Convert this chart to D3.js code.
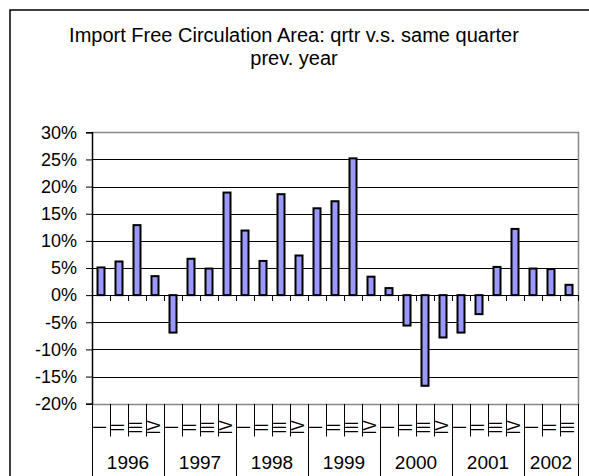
<!DOCTYPE html>
<html>
<head>
<meta charset="utf-8">
<script src="https://cdn.jsdelivr.net/npm/d3@7"></script>
<style>
html,body{margin:0;padding:0;background:#fff;}
svg{display:block;font-family:Arial,"Liberation Sans",sans-serif;}
</style>
</head>
<body>
<svg id="c" width="589" height="476"></svg>
<script>
const titleLines = ["Import Free Circulation Area: qrtr v.s. same quarter", "prev. year"];
const years = ["1996","1997","1998","1999","2000","2001","2002"];
const quarterLabels = ["I","II","III","IV"];
const categoryYears = ["1996","1996","1996","1996","1997","1997","1997","1997","1998","1998","1998","1998","1999","1999","1999","1999","2000","2000","2000","2000","2001","2001","2001","2001","2002","2002","2002"];
const categoryQuarters = ["I","II","III","IV","I","II","III","IV","I","II","III","IV","I","II","III","IV","I","II","III","IV","I","II","III","IV","I","II","III"];
const values = [5.1, 6.2, 12.9, 3.5, -6.9, 6.7, 4.9, 18.9, 11.9, 6.3, 18.6, 7.3, 16.0, 17.3, 25.2, 3.4, 1.3, -5.6, -16.7, -7.8, -6.9, -3.5, 5.2, 12.2, 4.9, 4.8, 1.9];
const yTicks = [-20, -15, -10, -5, 0, 5, 10, 15, 20, 25, 30];

const svg = d3.select("#c");
const L = 92, R = 578, T = 132.3, B = 403.7;
const n = values.length;
const ids = d3.range(n);

// outer frame
svg.append("rect").attr("x",10).attr("y",10).attr("width",620).attr("height",500)
  .attr("fill","#fff").attr("stroke","#000").attr("stroke-width",1.5);

// title
svg.append("g").selectAll("text").data(titleLines).join("text")
  .attr("x",294).attr("y",(d,i)=>42+i*22.5)
  .attr("text-anchor","middle").attr("font-size",20).attr("fill","#000")
  .text(d=>d);

const x = d3.scaleBand().domain(ids).range([L,R]).paddingInner(11/18).paddingOuter(11/36);
const step = x.step();
const y = d3.scaleLinear().domain([-20,30]).range([B,T]);

// gridlines
svg.append("g").selectAll("line").data(yTicks.filter(t=>t>-20 && t<30)).join("line")
  .attr("x1",L).attr("x2",R).attr("y1",d=>Math.round(y(d))+0.5).attr("y2",d=>Math.round(y(d))+0.5)
  .attr("stroke","#000").attr("stroke-width",1);

// plot border (gray)
svg.append("path")
  .attr("d",`M${L},${Math.round(T)+0.5}H${R+0.5}V${Math.round(B)+0.5}H${L}`)
  .attr("fill","none").attr("stroke","#888").attr("stroke-width",1.5);

// y axis
const yAxis = d3.axisLeft(y).tickValues(yTicks).tickSize(6).tickPadding(9).tickFormat(d=>d+"%");
const ya = svg.append("g").attr("transform",`translate(${L},0)`).call(yAxis);
ya.select(".domain").attr("stroke","#000").attr("stroke-width",1.5);
ya.selectAll(".tick line").attr("stroke","#000");
ya.selectAll(".tick text").attr("font-size",18).attr("fill","#000").attr("font-family","Arial, 'Liberation Sans', sans-serif");

// zero-line category ticks
svg.append("g").selectAll("line").data(d3.range(n+1)).join("line")
  .attr("x1",d=>Math.round(L+d*step)+0.5).attr("x2",d=>Math.round(L+d*step)+0.5)
  .attr("y1",Math.round(y(0))).attr("y2",Math.round(y(0))+6)
  .attr("stroke","#000").attr("stroke-width",1);

// bars
svg.append("g").selectAll("rect").data(ids).join("rect")
  .attr("x",i=>x(i)).attr("width",x.bandwidth())
  .attr("y",i=>y(Math.max(0,values[i])))
  .attr("height",i=>Math.abs(y(values[i])-y(0)))
  .attr("fill","#9999FF").attr("stroke","#000").attr("stroke-width",2);

// category separators (quarters)
svg.append("g").selectAll("line").data(d3.range(n+1)).join("line")
  .attr("x1",d=>Math.round(L+d*step)+0.5).attr("x2",d=>Math.round(L+d*step)+0.5)
  .attr("y1",Math.round(B)).attr("y2",d=>{
    const isYear = d===0 || d===n || categoryYears[d]!==categoryYears[d-1];
    return isYear ? 480 : 436.5;
  })
  .attr("stroke","#000").attr("stroke-width",1);

// quarter labels (rotated)
svg.append("g").selectAll("text").data(ids).join("text")
  .attr("transform",i=>`translate(${L+i*step+14},427.5) rotate(-90) scale(1,1.25)`)
  .attr("text-anchor","middle").attr("font-size",15).attr("fill","#000")
  .text(i=>categoryQuarters[i]);

// year labels
const yearGroups = years.map(yr=>{
  const idx = ids.filter(i=>categoryYears[i]===yr);
  return {yr, a: L+idx[0]*step, b: L+(idx[idx.length-1]+1)*step};
});
svg.append("g").selectAll("text").data(yearGroups).join("text")
  .attr("x",d=>(d.a+d.b)/2).attr("y",469)
  .attr("text-anchor","middle").attr("font-size",19).attr("fill","#000")
  .text(d=>d.yr);
</script>
</body>
</html>
